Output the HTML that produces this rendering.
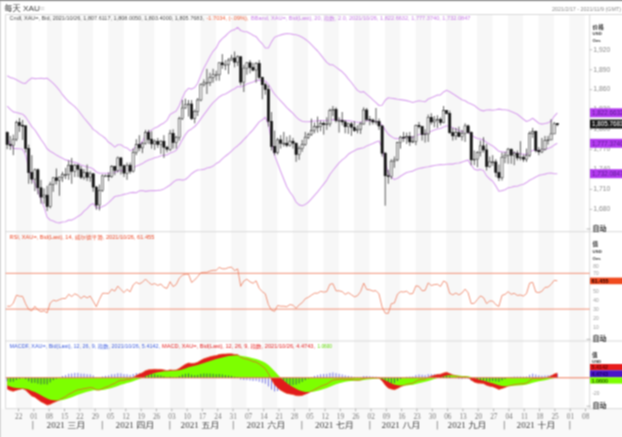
<!DOCTYPE html>
<html lang="zh"><head><meta charset="utf-8"><title>每天 XAU=</title>
<style>html,body{margin:0;padding:0;background:#fff;overflow:hidden}svg{display:block;}</style></head>
<body><svg width="622" height="437" viewBox="0 0 622 437">
<filter id="soft" filterUnits="userSpaceOnUse" x="-8" y="-8" width="638" height="453" color-interpolation-filters="sRGB"><feConvolveMatrix order="3" kernelMatrix="0.5 1.0 0.5 1.0 2.0 1.0 0.5 1.0 0.5" divisor="8.0" edgeMode="duplicate" preserveAlpha="true"/></filter><g filter="url(#soft)"><rect x="-8" y="-8" width="638" height="453" fill="#fff"/>
<rect x="-8" y="408.7" width="638" height="40" fill="#f9f9f9"/>
<g fill="#f7f7f7"><rect x="16.1" y="14.5" width="15.4" height="394.2"/><rect x="46.8" y="14.5" width="15.4" height="394.2"/><rect x="77.6" y="14.5" width="15.4" height="394.2"/><rect x="108.3" y="14.5" width="15.4" height="394.2"/><rect x="139.0" y="14.5" width="15.4" height="394.2"/><rect x="169.8" y="14.5" width="15.4" height="394.2"/><rect x="200.5" y="14.5" width="15.4" height="394.2"/><rect x="231.2" y="14.5" width="15.4" height="394.2"/><rect x="262.0" y="14.5" width="15.4" height="394.2"/><rect x="292.7" y="14.5" width="15.4" height="394.2"/><rect x="323.4" y="14.5" width="15.4" height="394.2"/><rect x="354.1" y="14.5" width="15.4" height="394.2"/><rect x="384.9" y="14.5" width="15.4" height="394.2"/><rect x="415.6" y="14.5" width="15.4" height="394.2"/><rect x="446.3" y="14.5" width="15.4" height="394.2"/><rect x="477.1" y="14.5" width="15.4" height="394.2"/><rect x="507.8" y="14.5" width="15.4" height="394.2"/><rect x="538.5" y="14.5" width="15.4" height="394.2"/><rect x="569.3" y="14.5" width="15.4" height="394.2"/></g>
<rect x="-8" y="-8" width="638" height="9.1" fill="#8a8a8a"/>
<rect x="-8" y="1.1" width="9" height="445" fill="#d4d4d4"/>
<g stroke="#d9d9d9" stroke-width="1" fill="none"><path d="M5.6,14.5 H630 M5.6,14.5 V408.7 M589.7,14.5 V408.7 M5.6,231.7 H630 M5.6,341.0 H630 M5.6,408.7 H630"/></g>
<clipPath id="cm"><rect x="5.6" y="14.5" width="584.1" height="217.2"/></clipPath>
<g clip-path="url(#cm)" stroke="#d9a3ee" stroke-width="1.1" fill="none" stroke-linejoin="round">
<path d="M7.2,75.8 L10.3,77.6 L13.3,78.3 L16.4,79.7 L19.5,81.5 L22.6,83.1 L25.6,83.4 L28.7,80.2 L31.8,78.0 L34.9,78.6 L37.9,78.5 L41.0,78.2 L44.1,78.6 L47.1,78.3 L50.2,80.6 L53.3,83.4 L56.4,86.6 L59.4,90.3 L62.5,94.7 L65.6,98.4 L68.7,101.7 L71.7,104.1 L74.8,106.6 L77.9,110.0 L81.0,114.0 L84.0,118.0 L87.1,121.7 L90.2,125.3 L93.2,129.4 L96.3,131.4 L99.4,134.1 L102.5,136.1 L105.5,138.5 L108.6,142.3 L111.7,144.3 L114.8,147.1 L117.8,144.8 L120.9,144.8 L124.0,146.9 L127.0,147.9 L130.1,150.7 L133.2,149.4 L136.3,145.7 L139.3,144.8 L142.4,141.5 L145.5,135.0 L148.6,131.7 L151.6,130.1 L154.7,127.9 L157.8,126.7 L160.9,124.5 L163.9,122.9 L167.0,120.3 L170.1,114.4 L173.1,112.7 L176.2,111.1 L179.3,105.5 L182.4,97.7 L185.4,91.6 L188.5,88.3 L191.6,89.1 L194.7,87.5 L197.7,83.3 L200.8,75.3 L203.9,68.0 L206.9,62.6 L210.0,56.5 L213.1,51.3 L216.2,47.9 L219.2,42.0 L222.3,38.7 L225.4,36.0 L228.5,32.9 L231.5,30.5 L234.6,29.6 L237.7,27.3 L240.7,30.5 L243.8,31.6 L246.9,31.8 L250.0,33.4 L253.0,35.3 L256.1,36.7 L259.2,40.6 L262.3,43.8 L265.3,48.0 L268.4,48.0 L271.5,41.9 L274.6,37.2 L277.6,36.1 L280.7,34.9 L283.8,34.1 L286.8,33.5 L289.9,33.7 L293.0,34.4 L296.1,34.7 L299.1,35.7 L302.2,37.3 L305.3,39.3 L308.4,41.6 L311.4,44.7 L314.5,47.8 L317.6,51.0 L320.6,54.6 L323.7,58.6 L326.8,62.4 L329.9,64.8 L332.9,64.9 L336.0,67.1 L339.1,69.5 L342.2,71.8 L345.2,74.9 L348.3,78.8 L351.4,82.5 L354.4,86.5 L357.5,90.4 L360.6,92.3 L363.7,91.6 L366.7,94.4 L369.8,96.9 L372.9,99.9 L376.0,102.6 L379.0,105.5 L382.1,105.3 L385.2,100.2 L388.3,97.8 L391.3,98.2 L394.4,98.6 L397.5,99.3 L400.5,99.6 L403.6,100.1 L406.7,100.6 L409.8,101.5 L412.8,102.5 L415.9,101.5 L419.0,100.7 L422.1,101.3 L425.1,101.8 L428.2,99.0 L431.3,97.7 L434.3,96.4 L437.4,95.1 L440.5,94.9 L443.6,91.9 L446.6,90.2 L449.7,91.8 L452.8,93.7 L455.9,95.7 L458.9,97.8 L462.0,99.8 L465.1,100.8 L468.1,102.8 L471.2,103.9 L474.3,105.4 L477.4,108.0 L480.4,110.1 L483.5,110.9 L486.6,110.0 L489.7,109.9 L492.7,110.3 L495.8,109.8 L498.9,109.1 L502.0,109.6 L505.0,109.7 L508.1,110.3 L511.2,111.5 L514.2,112.7 L517.3,114.3 L520.4,116.8 L523.5,119.2 L526.5,121.5 L529.6,120.3 L532.7,118.3 L535.8,120.8 L538.8,123.2 L541.9,124.1 L545.0,123.5 L548.0,122.9 L551.1,121.0 L554.2,116.3 L557.3,112.8"/>
<path d="M7.2,106.1 L10.3,109.4 L13.3,111.9 L16.4,112.5 L19.5,113.4 L22.6,114.2 L25.6,117.0 L28.7,121.8 L31.8,126.6 L34.9,130.0 L37.9,134.6 L41.0,139.5 L44.1,143.8 L47.1,148.8 L50.2,151.3 L53.3,153.0 L56.4,155.1 L59.4,156.8 L62.5,158.3 L65.6,159.9 L68.7,160.6 L71.7,161.8 L74.8,162.4 L77.9,163.3 L81.0,164.9 L84.0,165.9 L87.1,167.0 L90.2,167.5 L93.2,169.0 L96.3,172.0 L99.4,173.3 L102.5,173.2 L105.5,173.2 L108.6,173.4 L111.7,172.7 L114.8,172.5 L117.8,171.1 L120.9,170.5 L124.0,170.6 L127.0,169.9 L130.1,169.8 L133.2,168.2 L136.3,166.1 L139.3,164.9 L142.4,163.6 L145.5,161.5 L148.6,160.1 L151.6,159.1 L154.7,157.8 L157.8,157.0 L160.9,155.8 L163.9,155.3 L167.0,154.9 L170.1,153.1 L173.1,152.1 L176.2,150.2 L179.3,145.5 L182.4,139.6 L185.4,134.6 L188.5,130.7 L191.6,128.9 L194.7,126.5 L197.7,123.4 L200.8,118.9 L203.9,114.6 L206.9,110.6 L210.0,106.4 L213.1,102.7 L216.2,99.9 L219.2,96.9 L222.3,95.1 L225.4,93.9 L228.5,92.3 L231.5,90.3 L234.6,88.7 L237.7,86.5 L240.7,86.9 L243.8,85.8 L246.9,84.1 L250.0,83.0 L253.0,82.0 L256.1,80.4 L259.2,80.2 L262.3,80.5 L265.3,81.0 L268.4,84.3 L271.5,89.3 L274.6,94.2 L277.6,97.5 L280.7,100.9 L283.8,104.2 L286.8,107.6 L289.9,110.5 L293.0,113.3 L296.1,116.9 L299.1,119.6 L302.2,121.3 L305.3,121.8 L308.4,121.7 L311.4,121.4 L314.5,121.0 L317.6,120.9 L320.6,120.5 L323.7,120.5 L326.8,120.7 L329.9,120.0 L332.9,119.6 L336.0,120.0 L339.1,120.1 L342.2,120.1 L345.2,120.5 L348.3,120.6 L351.4,121.0 L354.4,121.7 L357.5,122.3 L360.6,122.3 L363.7,121.0 L366.7,120.8 L369.8,120.8 L372.9,121.1 L376.0,121.4 L379.0,122.1 L382.1,125.1 L385.2,129.9 L388.3,134.2 L391.3,136.5 L394.4,138.4 L397.5,138.6 L400.5,138.3 L403.6,138.0 L406.7,137.5 L409.8,137.4 L412.8,137.3 L415.9,135.7 L419.0,134.5 L422.1,134.3 L425.1,134.0 L428.2,132.3 L431.3,131.2 L434.3,130.0 L437.4,129.0 L440.5,128.5 L443.6,126.9 L446.6,125.7 L449.7,126.5 L452.8,127.7 L455.9,128.9 L458.9,130.5 L462.0,131.6 L465.1,131.7 L468.1,132.0 L471.2,134.8 L474.3,137.1 L477.4,138.5 L480.4,139.1 L483.5,140.0 L486.6,142.5 L489.7,144.3 L492.7,145.9 L495.8,148.5 L498.9,151.3 L502.0,151.9 L505.0,152.3 L508.1,152.1 L511.2,152.5 L514.2,152.7 L517.3,153.3 L520.4,153.7 L523.5,154.3 L526.5,154.4 L529.6,152.4 L532.7,150.3 L535.8,150.2 L538.8,150.2 L541.9,150.1 L545.0,149.2 L548.0,148.4 L551.1,147.2 L554.2,145.1 L557.3,143.3"/>
<path d="M7.2,139.0 L10.3,144.0 L13.3,148.4 L16.4,148.6 L19.5,148.8 L22.6,149.2 L25.6,154.9 L28.7,167.8 L31.8,179.1 L34.9,183.5 L37.9,190.6 L41.0,199.6 L44.1,207.2 L47.1,217.2 L50.2,220.0 L53.3,221.1 L56.4,222.5 L59.4,222.9 L62.5,222.0 L65.6,221.8 L68.7,220.0 L71.7,220.1 L74.8,218.5 L77.9,216.4 L81.0,214.6 L84.0,211.2 L87.1,208.6 L90.2,205.1 L93.2,203.6 L96.3,207.6 L99.4,208.0 L102.5,206.6 L105.5,205.2 L108.6,202.6 L111.7,199.7 L114.8,196.5 L117.8,195.9 L120.9,195.2 L124.0,194.4 L127.0,193.7 L130.1,192.8 L133.2,192.4 L136.3,192.8 L139.3,190.9 L142.4,190.5 L145.5,191.4 L148.6,190.9 L151.6,190.5 L154.7,190.6 L157.8,190.4 L160.9,190.1 L163.9,188.9 L167.0,187.0 L170.1,185.0 L173.1,182.3 L176.2,180.1 L179.3,179.5 L182.4,180.1 L185.4,179.5 L188.5,176.9 L191.6,173.7 L194.7,171.5 L197.7,170.0 L200.8,169.8 L203.9,169.4 L206.9,168.0 L210.0,167.4 L213.1,166.1 L216.2,163.6 L219.2,161.9 L222.3,158.8 L225.4,156.2 L228.5,153.8 L231.5,151.1 L234.6,148.1 L237.7,145.7 L240.7,143.0 L243.8,139.7 L246.9,136.5 L250.0,133.0 L253.0,129.8 L256.1,125.8 L259.2,121.9 L262.3,119.8 L265.3,117.2 L268.4,124.3 L271.5,140.8 L274.6,155.6 L277.6,163.3 L280.7,171.5 L283.8,179.2 L286.8,186.8 L289.9,192.0 L293.0,196.3 L296.1,202.1 L299.1,204.9 L302.2,205.8 L305.3,204.4 L308.4,202.2 L311.4,198.9 L314.5,195.3 L317.6,191.9 L320.6,188.0 L323.7,184.1 L326.8,180.1 L329.9,174.5 L332.9,170.5 L336.0,166.7 L339.1,162.9 L342.2,159.9 L345.2,157.6 L348.3,154.3 L351.4,152.3 L354.4,150.8 L357.5,149.1 L360.6,148.4 L363.7,147.8 L366.7,145.9 L369.8,144.8 L372.9,143.5 L376.0,142.1 L379.0,141.0 L382.1,147.5 L385.2,162.2 L388.3,173.1 L391.3,176.9 L394.4,179.6 L397.5,178.3 L400.5,176.2 L403.6,174.3 L406.7,172.5 L409.8,171.8 L412.8,171.1 L415.9,169.6 L419.0,168.5 L422.1,167.9 L425.1,167.3 L428.2,166.8 L431.3,166.1 L434.3,165.5 L437.4,165.0 L440.5,164.6 L443.6,164.7 L446.6,164.2 L449.7,164.1 L452.8,164.1 L455.9,163.3 L458.9,163.0 L462.0,162.1 L465.1,160.9 L468.1,160.1 L471.2,165.2 L474.3,169.2 L477.4,170.1 L480.4,169.4 L483.5,170.4 L486.6,175.9 L489.7,179.0 L492.7,181.3 L495.8,185.9 L498.9,191.2 L502.0,190.6 L505.0,189.8 L508.1,187.9 L511.2,187.2 L514.2,186.4 L517.3,186.2 L520.4,185.0 L523.5,184.2 L526.5,182.6 L529.6,180.3 L532.7,178.7 L535.8,176.9 L538.8,175.4 L541.9,174.7 L545.0,174.1 L548.0,173.3 L551.1,173.0 L554.2,173.7 L557.3,173.7"/>
</g>
<path d="M7.2,131.3V149.2M10.3,135.9V149.9M13.3,134.6V155.2M16.4,120.6V141.2M19.5,118.0V131.9M22.6,120.0V139.9M25.6,125.3V152.5M28.7,144.6V183.8M31.8,155.2V183.8M34.9,168.5V191.1M37.9,168.5V194.4M41.0,179.8V203.7M44.1,188.4V203.7M47.1,185.8V211.1M50.2,181.8V208.4M53.3,177.1V191.8M56.4,168.5V184.5M59.4,176.5V195.8M62.5,171.8V181.8M65.6,167.8V179.1M68.7,160.5V179.8M71.7,157.9V183.8M74.8,163.8V177.1M77.9,163.8V177.1M81.0,165.8V179.1M84.0,169.2V179.8M87.1,164.5V181.1M90.2,171.2V181.8M93.2,173.2V191.8M96.3,185.8V209.7M99.4,184.5V210.4M102.5,174.5V191.8M105.5,174.5V177.1M108.6,172.5V181.1M111.7,165.2V177.8M114.8,165.8V175.2M117.8,156.5V172.5M120.9,157.2V174.5M124.0,164.5V177.1M127.0,162.5V179.8M130.1,162.5V173.8M133.2,148.6V172.5M136.3,139.2V155.2M139.3,135.2V151.2M142.4,141.9V153.2M145.5,129.9V144.6M148.6,129.9V143.9M151.6,131.3V148.6M154.7,139.2V149.9M157.8,137.9V147.9M160.9,139.9V153.9M163.9,135.2V157.9M167.0,145.9V152.5M170.1,129.9V151.2M173.1,129.3V148.6M176.2,135.9V148.6M179.3,116.6V140.6M182.4,100.0V120.0M185.4,98.7V108.7M188.5,100.0V116.6M191.6,100.0V120.0M194.7,109.3V123.3M197.7,98.0V116.0M200.8,83.4V101.3M203.9,79.4V86.7M206.9,68.8V94.0M210.0,72.7V86.0M213.1,68.8V82.7M216.2,70.7V80.7M219.2,62.1V80.7M222.3,54.1V68.8M225.4,60.1V70.1M228.5,58.1V74.1M231.5,54.8V60.8M234.6,51.5V67.4M237.7,55.4V66.1M240.7,56.1V85.4M243.8,64.8V92.0M246.9,62.1V74.7M250.0,60.1V73.4M253.0,62.8V71.4M256.1,62.1V82.7M259.2,60.1V79.4M262.3,76.7V99.3M265.3,82.7V94.7M268.4,85.4V126.6M271.5,112.0V150.5M274.6,130.6V155.2M277.6,137.9V154.5M280.7,135.2V148.6M283.8,131.9V146.6M286.8,136.6V147.2M289.9,135.2V146.6M293.0,137.9V148.6M296.1,142.6V161.9M299.1,145.9V159.9M302.2,139.9V151.9M305.3,131.9V145.9M308.4,132.6V139.2M311.4,118.6V135.9M314.5,122.6V133.3M317.6,116.6V132.6M320.6,120.6V131.3M323.7,121.3V134.6M326.8,117.3V129.9M329.9,108.7V126.6M332.9,106.0V116.0M336.0,107.3V122.6M339.1,117.3V132.6M342.2,112.0V125.3M345.2,120.0V133.3M348.3,122.6V133.9M351.4,122.0V135.9M354.4,121.3V131.9M357.5,125.3V133.3M360.6,122.0V133.9M363.7,107.3V124.6M366.7,108.0V121.3M369.8,116.0V125.3M372.9,118.6V124.6M376.0,108.0V124.6M379.0,118.6V129.9M382.1,125.3V156.5M385.2,151.9V205.7M388.3,169.8V183.8M391.3,159.2V179.1M394.4,156.5V167.8M397.5,141.9V161.2M400.5,135.9V148.6M403.6,131.9V141.9M406.7,132.6V143.9M409.8,131.9V145.9M412.8,135.9V143.2M415.9,124.6V145.2M419.0,122.0V128.6M422.1,125.9V140.6M425.1,129.3V142.6M428.2,114.6V141.9M431.3,113.3V124.6M434.3,116.0V127.3M437.4,115.3V127.9M440.5,117.3V125.3M443.6,106.0V123.3M446.6,110.0V114.6M449.7,110.6V133.9M452.8,127.9V140.6M455.9,127.9V139.9M458.9,126.6V137.2M462.0,129.9V140.6M465.1,123.3V141.9M468.1,124.6V133.9M471.2,131.3V165.2M474.3,150.5V165.2M477.4,151.2V167.2M480.4,140.6V156.5M483.5,137.2V152.5M486.6,143.9V170.5M489.7,156.5V167.8M492.7,155.2V165.8M495.8,159.2V177.1M498.9,164.5V181.1M502.0,152.5V180.5M505.0,151.9V163.2M508.1,147.9V163.8M511.2,148.6V163.8M514.2,151.2V165.2M517.3,150.5V160.5M520.4,141.2V160.5M523.5,154.5V161.9M526.5,148.6V161.9M529.6,131.3V157.2M532.7,127.9V137.9M535.8,130.6V152.5M538.8,147.2V155.2M541.9,137.9V153.2M545.0,135.9V150.5M548.0,135.9V144.6M551.1,119.3V139.9M554.2,122.0V133.9M557.3,123.3V126.3" stroke="#333" stroke-width="0.8" fill="none"/>
<g fill="#fff" stroke="#333" stroke-width="0.6"><rect x="12.2" y="139.2" width="2.2" height="6.0"/><rect x="15.3" y="122.6" width="2.2" height="16.6"/><rect x="33.8" y="169.8" width="2.2" height="9.3"/><rect x="43.0" y="195.1" width="2.2" height="2.0"/><rect x="49.1" y="184.5" width="2.2" height="21.9"/><rect x="52.2" y="177.8" width="2.2" height="6.6"/><rect x="58.3" y="177.1" width="2.2" height="3.3"/><rect x="61.4" y="174.5" width="2.2" height="2.7"/><rect x="64.5" y="174.5" width="2.2" height="0.8"/><rect x="67.6" y="165.2" width="2.2" height="9.3"/><rect x="73.7" y="165.2" width="2.2" height="6.0"/><rect x="82.9" y="172.5" width="2.2" height="4.7"/><rect x="89.1" y="173.8" width="2.2" height="3.3"/><rect x="98.3" y="190.4" width="2.2" height="14.6"/><rect x="101.4" y="175.8" width="2.2" height="14.6"/><rect x="104.4" y="175.8" width="2.2" height="0.8"/><rect x="110.6" y="166.5" width="2.2" height="10.0"/><rect x="116.7" y="157.9" width="2.2" height="12.6"/><rect x="125.9" y="165.2" width="2.2" height="8.0"/><rect x="132.1" y="152.5" width="2.2" height="18.6"/><rect x="135.2" y="144.6" width="2.2" height="8.0"/><rect x="141.3" y="143.2" width="2.2" height="4.7"/><rect x="144.4" y="132.6" width="2.2" height="10.6"/><rect x="153.6" y="141.2" width="2.2" height="2.7"/><rect x="159.8" y="141.2" width="2.2" height="3.3"/><rect x="169.0" y="133.3" width="2.2" height="16.0"/><rect x="175.1" y="137.2" width="2.2" height="5.3"/><rect x="178.2" y="118.6" width="2.2" height="18.6"/><rect x="181.3" y="108.0" width="2.2" height="10.6"/><rect x="184.3" y="104.7" width="2.2" height="3.3"/><rect x="187.4" y="104.0" width="2.2" height="0.8"/><rect x="193.6" y="111.3" width="2.2" height="7.3"/><rect x="196.6" y="100.0" width="2.2" height="11.3"/><rect x="199.7" y="84.7" width="2.2" height="15.3"/><rect x="202.8" y="82.7" width="2.2" height="2.0"/><rect x="205.8" y="82.7" width="2.2" height="0.8"/><rect x="208.9" y="77.4" width="2.2" height="5.3"/><rect x="212.0" y="74.7" width="2.2" height="2.7"/><rect x="215.1" y="74.7" width="2.2" height="0.8"/><rect x="218.1" y="62.8" width="2.2" height="12.0"/><rect x="224.3" y="64.8" width="2.2" height="0.8"/><rect x="227.4" y="60.1" width="2.2" height="4.7"/><rect x="230.4" y="58.1" width="2.2" height="2.0"/><rect x="236.6" y="56.8" width="2.2" height="5.3"/><rect x="242.7" y="68.1" width="2.2" height="14.0"/><rect x="245.8" y="62.8" width="2.2" height="5.3"/><rect x="255.0" y="63.4" width="2.2" height="6.6"/><rect x="276.5" y="139.9" width="2.2" height="12.6"/><rect x="282.7" y="143.2" width="2.2" height="0.8"/><rect x="288.8" y="141.2" width="2.2" height="4.0"/><rect x="298.0" y="148.6" width="2.2" height="6.0"/><rect x="301.1" y="144.6" width="2.2" height="4.0"/><rect x="304.2" y="137.2" width="2.2" height="7.3"/><rect x="307.3" y="134.6" width="2.2" height="2.7"/><rect x="310.3" y="130.6" width="2.2" height="4.0"/><rect x="313.4" y="126.6" width="2.2" height="4.0"/><rect x="316.5" y="126.6" width="2.2" height="0.8"/><rect x="319.5" y="123.3" width="2.2" height="3.3"/><rect x="325.7" y="123.9" width="2.2" height="0.8"/><rect x="328.8" y="110.6" width="2.2" height="13.3"/><rect x="331.8" y="109.3" width="2.2" height="1.3"/><rect x="338.0" y="120.6" width="2.2" height="0.8"/><rect x="347.2" y="123.9" width="2.2" height="2.7"/><rect x="356.4" y="129.3" width="2.2" height="1.3"/><rect x="359.5" y="123.9" width="2.2" height="5.3"/><rect x="362.6" y="110.0" width="2.2" height="14.0"/><rect x="374.9" y="121.3" width="2.2" height="0.8"/><rect x="390.2" y="161.2" width="2.2" height="15.3"/><rect x="393.3" y="159.9" width="2.2" height="1.3"/><rect x="396.4" y="142.6" width="2.2" height="17.3"/><rect x="399.4" y="137.2" width="2.2" height="5.3"/><rect x="405.6" y="136.6" width="2.2" height="1.3"/><rect x="411.7" y="141.2" width="2.2" height="0.8"/><rect x="414.8" y="125.3" width="2.2" height="16.0"/><rect x="424.0" y="133.9" width="2.2" height="0.8"/><rect x="427.1" y="117.3" width="2.2" height="16.6"/><rect x="433.2" y="120.0" width="2.2" height="2.0"/><rect x="436.3" y="119.3" width="2.2" height="0.8"/><rect x="442.5" y="110.6" width="2.2" height="12.0"/><rect x="454.8" y="132.6" width="2.2" height="3.3"/><rect x="460.9" y="133.3" width="2.2" height="3.3"/><rect x="464.0" y="125.9" width="2.2" height="7.3"/><rect x="473.2" y="159.2" width="2.2" height="0.8"/><rect x="476.3" y="152.5" width="2.2" height="6.6"/><rect x="479.3" y="145.9" width="2.2" height="6.7"/><rect x="488.6" y="161.9" width="2.2" height="4.7"/><rect x="491.6" y="161.9" width="2.2" height="0.8"/><rect x="500.9" y="157.2" width="2.2" height="20.6"/><rect x="503.9" y="155.2" width="2.2" height="2.0"/><rect x="507.0" y="149.2" width="2.2" height="6.0"/><rect x="513.1" y="153.2" width="2.2" height="2.0"/><rect x="519.3" y="157.2" width="2.2" height="0.8"/><rect x="525.4" y="155.2" width="2.2" height="4.0"/><rect x="528.5" y="133.3" width="2.2" height="21.9"/><rect x="531.6" y="131.3" width="2.2" height="2.0"/><rect x="540.8" y="149.2" width="2.2" height="2.7"/><rect x="543.9" y="140.6" width="2.2" height="8.6"/><rect x="546.9" y="139.9" width="2.2" height="0.8"/><rect x="550.0" y="133.9" width="2.2" height="6.0"/><rect x="553.1" y="123.9" width="2.2" height="10.0"/></g>
<g fill="#111" stroke="#111" stroke-width="0.6"><rect x="6.1" y="132.6" width="2.2" height="12.0"/><rect x="9.2" y="144.6" width="2.2" height="0.8"/><rect x="18.4" y="122.6" width="2.2" height="2.7"/><rect x="21.5" y="125.3" width="2.2" height="0.8"/><rect x="24.5" y="125.9" width="2.2" height="22.6"/><rect x="27.6" y="148.6" width="2.2" height="23.9"/><rect x="30.7" y="172.5" width="2.2" height="6.6"/><rect x="36.8" y="169.8" width="2.2" height="18.0"/><rect x="39.9" y="187.8" width="2.2" height="9.3"/><rect x="46.0" y="195.1" width="2.2" height="11.3"/><rect x="55.3" y="177.8" width="2.2" height="2.7"/><rect x="70.6" y="165.2" width="2.2" height="6.0"/><rect x="76.8" y="165.2" width="2.2" height="4.0"/><rect x="79.9" y="169.2" width="2.2" height="8.0"/><rect x="86.0" y="172.5" width="2.2" height="4.7"/><rect x="92.1" y="173.8" width="2.2" height="13.3"/><rect x="95.2" y="187.1" width="2.2" height="18.0"/><rect x="107.5" y="175.8" width="2.2" height="0.8"/><rect x="113.7" y="166.5" width="2.2" height="4.0"/><rect x="119.8" y="157.9" width="2.2" height="8.0"/><rect x="122.9" y="165.8" width="2.2" height="7.3"/><rect x="129.0" y="165.2" width="2.2" height="6.0"/><rect x="138.2" y="144.6" width="2.2" height="3.3"/><rect x="147.5" y="132.6" width="2.2" height="6.7"/><rect x="150.5" y="139.2" width="2.2" height="4.7"/><rect x="156.7" y="141.2" width="2.2" height="3.3"/><rect x="162.8" y="141.2" width="2.2" height="6.0"/><rect x="165.9" y="147.2" width="2.2" height="2.0"/><rect x="172.0" y="133.3" width="2.2" height="9.3"/><rect x="190.5" y="104.0" width="2.2" height="14.6"/><rect x="221.2" y="62.8" width="2.2" height="2.0"/><rect x="233.5" y="58.1" width="2.2" height="4.0"/><rect x="239.6" y="56.8" width="2.2" height="25.3"/><rect x="248.9" y="62.8" width="2.2" height="4.7"/><rect x="251.9" y="67.4" width="2.2" height="2.7"/><rect x="258.1" y="63.4" width="2.2" height="14.0"/><rect x="261.2" y="77.4" width="2.2" height="7.3"/><rect x="264.2" y="84.7" width="2.2" height="4.7"/><rect x="267.3" y="89.4" width="2.2" height="31.9"/><rect x="270.4" y="121.3" width="2.2" height="25.3"/><rect x="273.5" y="146.6" width="2.2" height="6.0"/><rect x="279.6" y="139.9" width="2.2" height="3.3"/><rect x="285.7" y="143.2" width="2.2" height="2.0"/><rect x="291.9" y="141.2" width="2.2" height="2.0"/><rect x="295.0" y="143.2" width="2.2" height="11.3"/><rect x="322.6" y="123.3" width="2.2" height="1.3"/><rect x="334.9" y="109.3" width="2.2" height="11.3"/><rect x="341.1" y="120.6" width="2.2" height="1.3"/><rect x="344.1" y="122.0" width="2.2" height="4.7"/><rect x="350.3" y="123.9" width="2.2" height="3.3"/><rect x="353.3" y="127.3" width="2.2" height="3.3"/><rect x="365.6" y="110.0" width="2.2" height="9.3"/><rect x="368.7" y="119.3" width="2.2" height="0.8"/><rect x="371.8" y="120.0" width="2.2" height="2.0"/><rect x="377.9" y="121.3" width="2.2" height="4.7"/><rect x="381.0" y="125.9" width="2.2" height="27.3"/><rect x="384.1" y="153.2" width="2.2" height="22.6"/><rect x="387.2" y="175.8" width="2.2" height="0.8"/><rect x="402.5" y="137.2" width="2.2" height="0.8"/><rect x="408.7" y="136.6" width="2.2" height="5.3"/><rect x="417.9" y="125.3" width="2.2" height="1.3"/><rect x="421.0" y="126.6" width="2.2" height="8.0"/><rect x="430.2" y="117.3" width="2.2" height="4.7"/><rect x="439.4" y="119.3" width="2.2" height="3.3"/><rect x="445.5" y="110.6" width="2.2" height="2.7"/><rect x="448.6" y="113.3" width="2.2" height="19.3"/><rect x="451.7" y="132.6" width="2.2" height="3.3"/><rect x="457.8" y="132.6" width="2.2" height="4.0"/><rect x="467.0" y="125.9" width="2.2" height="6.7"/><rect x="470.1" y="132.6" width="2.2" height="27.3"/><rect x="482.4" y="145.9" width="2.2" height="4.0"/><rect x="485.5" y="149.9" width="2.2" height="16.6"/><rect x="494.7" y="161.9" width="2.2" height="10.6"/><rect x="497.8" y="172.5" width="2.2" height="5.3"/><rect x="510.1" y="149.2" width="2.2" height="6.0"/><rect x="516.2" y="153.2" width="2.2" height="4.7"/><rect x="522.4" y="157.2" width="2.2" height="2.0"/><rect x="534.7" y="131.3" width="2.2" height="19.3"/><rect x="537.7" y="150.5" width="2.2" height="1.3"/><rect x="556.2" y="123.5" width="2.2" height="1.2"/></g>
<g stroke="#ee7b5c" stroke-width="0.85" fill="none"><path d="M5.6,273.3H589.7M5.6,309.1H589.7"/><path stroke-width="0.8" stroke-linejoin="round" d="M7.2,306.2 L10.3,306.3 L13.3,303.1 L16.4,295.2 L19.5,296.2 L22.6,296.4 L25.6,303.8 L28.7,309.4 L31.8,310.8 L34.9,306.3 L37.9,310.0 L41.0,311.7 L44.1,310.8 L47.1,312.9 L50.2,303.0 L53.3,300.3 L56.4,301.0 L59.4,299.6 L62.5,298.5 L65.6,298.5 L68.7,294.3 L71.7,296.5 L74.8,293.8 L77.9,295.3 L81.0,298.4 L84.0,296.0 L87.1,297.9 L90.2,296.1 L93.2,301.2 L96.3,306.7 L99.4,299.4 L102.5,293.3 L105.5,293.3 L108.6,293.5 L111.7,289.3 L114.8,291.1 L117.8,286.1 L120.9,289.6 L124.0,292.6 L127.0,289.3 L130.1,291.9 L133.2,284.9 L136.3,282.3 L139.3,283.9 L142.4,282.3 L145.5,279.0 L148.6,282.3 L151.6,284.6 L154.7,283.6 L157.8,285.4 L160.9,284.0 L163.9,287.3 L167.0,288.4 L170.1,281.7 L173.1,286.6 L176.2,284.5 L179.3,278.1 L182.4,275.2 L185.4,274.3 L188.5,274.1 L191.6,282.4 L194.7,280.0 L197.7,276.6 L200.8,272.8 L203.9,272.3 L206.9,272.3 L210.0,271.0 L213.1,270.3 L216.2,270.3 L219.2,267.4 L222.3,268.8 L225.4,268.8 L228.5,267.6 L231.5,267.1 L234.6,270.6 L237.7,268.9 L240.7,286.3 L243.8,281.0 L246.9,279.2 L250.0,281.8 L253.0,283.3 L256.1,280.8 L259.2,288.3 L262.3,291.7 L265.3,293.8 L268.4,304.6 L271.5,310.2 L274.6,311.3 L277.6,305.5 L280.7,306.2 L283.8,306.2 L286.8,306.7 L289.9,304.6 L293.0,305.2 L296.1,308.3 L299.1,304.9 L302.2,302.7 L305.3,298.7 L308.4,297.3 L311.4,295.2 L314.5,293.2 L317.6,293.2 L320.6,291.3 L323.7,292.1 L326.8,291.6 L329.9,284.3 L332.9,283.7 L336.0,290.8 L339.1,290.8 L342.2,291.6 L345.2,294.4 L348.3,292.6 L351.4,294.7 L354.4,296.8 L357.5,295.7 L360.6,291.6 L363.7,283.1 L366.7,289.4 L369.8,289.8 L372.9,291.1 L376.0,290.7 L379.0,293.9 L382.1,307.0 L385.2,313.2 L388.3,313.4 L391.3,303.7 L394.4,303.0 L397.5,294.1 L400.5,291.7 L403.6,292.0 L406.7,291.3 L409.8,293.9 L412.8,293.5 L415.9,285.8 L419.0,286.5 L422.1,290.8 L425.1,290.4 L428.2,282.9 L431.3,285.5 L434.3,284.6 L437.4,284.3 L440.5,286.4 L443.6,281.0 L446.6,282.7 L449.7,293.3 L452.8,294.8 L455.9,293.0 L458.9,294.9 L462.0,293.0 L465.1,289.1 L468.1,292.7 L471.2,303.6 L474.3,303.3 L477.4,299.5 L480.4,295.9 L483.5,297.6 L486.6,303.6 L489.7,301.0 L492.7,301.0 L495.8,304.7 L498.9,306.4 L502.0,295.4 L505.0,294.4 L508.1,291.7 L511.2,294.3 L514.2,293.3 L517.3,295.4 L520.4,295.0 L523.5,296.0 L526.5,293.6 L529.6,283.1 L532.7,282.3 L535.8,292.0 L538.8,292.6 L541.9,291.3 L545.0,287.4 L548.0,287.1 L551.1,284.4 L554.2,280.3 L557.3,280.8"/></g>
<clipPath id="cg"><path d="M7.2,377.8 L7.2,385.5 L10.3,386.5 L13.3,387.5 L16.4,388.0 L19.5,388.3 L22.6,388.4 L25.6,388.7 L28.7,389.6 L31.8,390.9 L34.9,392.1 L37.9,393.6 L41.0,395.3 L44.1,396.9 L47.1,398.5 L50.2,399.7 L53.3,400.3 L56.4,400.5 L59.4,400.4 L62.5,399.9 L65.6,399.3 L68.7,398.3 L71.7,397.2 L74.8,396.0 L77.9,394.8 L81.0,393.7 L84.0,392.7 L87.1,391.8 L90.2,390.9 L93.2,390.3 L96.3,390.3 L99.4,390.2 L102.5,389.9 L105.5,389.4 L108.6,388.8 L111.7,387.9 L114.8,387.0 L117.8,385.9 L120.9,384.8 L124.0,383.9 L127.0,383.0 L130.1,382.3 L133.2,381.3 L136.3,380.1 L139.3,378.9 L142.4,377.7 L145.5,376.3 L148.6,375.0 L151.6,373.9 L154.7,373.0 L157.8,372.3 L160.9,371.7 L163.9,371.3 L167.0,371.2 L170.1,370.9 L173.1,370.8 L176.2,370.6 L179.3,370.2 L182.4,369.4 L185.4,368.4 L188.5,367.3 L191.6,366.5 L194.7,365.8 L197.7,365.1 L200.8,364.1 L203.9,363.1 L206.9,362.0 L210.0,361.0 L213.1,360.0 L216.2,359.1 L219.2,358.2 L222.3,357.4 L225.4,356.7 L228.5,356.1 L231.5,355.7 L234.6,355.4 L237.7,355.3 L240.7,355.7 L243.8,356.2 L246.9,356.8 L250.0,357.5 L253.0,358.3 L256.1,359.1 L259.2,360.0 L262.3,361.3 L265.3,362.8 L268.4,364.9 L271.5,367.9 L274.6,371.3 L277.6,374.6 L280.7,377.7 L283.8,380.6 L286.8,383.1 L289.9,385.3 L293.0,387.1 L296.1,388.8 L299.1,390.2 L302.2,391.3 L305.3,391.9 L308.4,392.1 L311.4,391.9 L314.5,391.4 L317.6,390.7 L320.6,389.9 L323.7,388.9 L326.8,388.0 L329.9,386.8 L332.9,385.4 L336.0,384.3 L339.1,383.3 L342.2,382.4 L345.2,381.8 L348.3,381.3 L351.4,381.0 L354.4,380.8 L357.5,380.7 L360.6,380.5 L363.7,380.1 L366.7,379.6 L369.8,379.3 L372.9,379.0 L376.0,378.7 L379.0,378.6 L382.1,379.0 L385.2,380.2 L388.3,381.8 L391.3,383.2 L394.4,384.5 L397.5,385.3 L400.5,385.6 L403.6,385.6 L406.7,385.4 L409.8,385.0 L412.8,384.7 L415.9,384.0 L419.0,383.2 L422.1,382.5 L425.1,381.8 L428.2,380.9 L431.3,379.9 L434.3,379.0 L437.4,378.1 L440.5,377.3 L443.6,376.5 L446.6,375.6 L449.7,375.2 L452.8,375.2 L455.9,375.3 L458.9,375.5 L462.0,375.9 L465.1,376.1 L468.1,376.3 L471.2,377.1 L474.3,378.1 L477.4,379.1 L480.4,379.9 L483.5,380.6 L486.6,381.6 L489.7,382.5 L492.7,383.3 L495.8,384.3 L498.9,385.3 L502.0,385.9 L505.0,386.3 L508.1,386.2 L511.2,386.0 L514.2,385.8 L517.3,385.5 L520.4,385.2 L523.5,384.9 L526.5,384.5 L529.6,383.8 L532.7,382.7 L535.8,381.9 L538.8,381.3 L541.9,380.8 L545.0,380.2 L548.0,379.5 L551.1,378.8 L554.2,377.9 L557.3,376.9 L557.3,377.8Z"/></clipPath>
<path d="M7.2,377.8V381.2M10.3,377.8V381.9M13.3,377.8V381.6M16.4,377.8V380.0M19.5,377.8V378.9M22.6,377.8V378.1M25.6,377.8V379.2M28.7,377.8V381.3M31.8,377.8V382.9M34.9,377.8V382.8M37.9,377.8V383.7M41.0,377.8V384.4M44.1,377.8V384.2M47.1,377.8V384.4M50.2,377.8V382.4M53.3,377.8V380.2M56.4,377.8V378.7M59.4,377.8V377.3M62.5,377.8V376.0M65.6,377.8V375.1M68.7,377.8V373.8M71.7,377.8V373.5M74.8,377.8V372.9M77.9,377.8V372.9M81.0,377.8V373.6M84.0,377.8V373.7M87.1,377.8V374.2M90.2,377.8V374.4M93.2,377.8V375.5M96.3,377.8V377.5M99.4,377.8V377.6M102.5,377.8V376.5M105.5,377.8V375.8M108.6,377.8V375.4M111.7,377.8V374.4M114.8,377.8V374.2M117.8,377.8V373.3M120.9,377.8V373.4M124.0,377.8V374.2M127.0,377.8V374.3M130.1,377.8V374.9M133.2,377.8V374.0M136.3,377.8V373.1M139.3,377.8V373.0M142.4,377.8V372.8M145.5,377.8V372.2M148.6,377.8V372.6M151.6,377.8V373.5M154.7,377.8V374.1M157.8,377.8V375.0M160.9,377.8V375.5M163.9,377.8V376.4M167.0,377.8V377.3M170.1,377.8V376.7M173.1,377.8V377.2M176.2,377.8V377.2M179.3,377.8V376.0M182.4,377.8V374.6M185.4,377.8V373.8M188.5,377.8V373.5M191.6,377.8V374.7M194.7,377.8V375.2M197.7,377.8V374.9M200.8,377.8V373.9M203.9,377.8V373.5M206.9,377.8V373.6M210.0,377.8V373.6M213.1,377.8V373.8M216.2,377.8V374.3M219.2,377.8V374.1M222.3,377.8V374.5M225.4,377.8V375.1M228.5,377.8V375.5M231.5,377.8V375.9M234.6,377.8V376.8M237.7,377.8V377.2M240.7,377.8V379.5M243.8,377.8V380.0M246.9,377.8V380.1M250.0,377.8V380.5M253.0,377.8V381.0M256.1,377.8V380.9M259.2,377.8V381.8M262.3,377.8V382.8M265.3,377.8V383.7M268.4,377.8V386.4M271.5,377.8V389.5M274.6,377.8V391.4M277.6,377.8V391.0M280.7,377.8V390.3M283.8,377.8V389.3M286.8,377.8V388.1M289.9,377.8V386.5M293.0,377.8V385.1M296.1,377.8V384.6M299.1,377.8V383.4M302.2,377.8V381.9M305.3,377.8V380.2M308.4,377.8V378.6M311.4,377.8V377.2M314.5,377.8V375.9M317.6,377.8V375.1M320.6,377.8V374.3M323.7,377.8V374.0M326.8,377.8V373.9M329.9,377.8V373.0M332.9,377.8V372.5M336.0,377.8V373.2M339.1,377.8V373.8M342.2,377.8V374.5M345.2,377.8V375.3M348.3,377.8V375.8M351.4,377.8V376.4M354.4,377.8V377.0M357.5,377.8V377.3M360.6,377.8V377.2M363.7,377.8V376.1M366.7,377.8V376.1M369.8,377.8V376.3M372.9,377.8V376.6M376.0,377.8V376.8M379.0,377.8V377.3M382.1,377.8V379.6M385.2,377.8V382.5M388.3,377.8V384.1M391.3,377.8V383.7M394.4,377.8V383.0M397.5,377.8V380.9M400.5,377.8V379.0M403.6,377.8V377.8M406.7,377.8V376.8M409.8,377.8V376.6M412.8,377.8V376.4M415.9,377.8V375.1M419.0,377.8V374.5M422.1,377.8V374.8M425.1,377.8V375.1M428.2,377.8V374.2M431.3,377.8V374.1M434.3,377.8V374.1M437.4,377.8V374.2M440.5,377.8V374.7M443.6,377.8V374.3M446.6,377.8V374.5M449.7,377.8V376.1M452.8,377.8V377.5M455.9,377.8V378.2M458.9,377.8V378.9M462.0,377.8V379.1M465.1,377.8V378.6M468.1,377.8V378.8M471.2,377.8V380.8M474.3,377.8V381.8M477.4,377.8V381.8M480.4,377.8V381.1M483.5,377.8V380.8M486.6,377.8V381.5M489.7,377.8V381.5M492.7,377.8V381.2M495.8,377.8V381.5M498.9,377.8V381.9M502.0,377.8V380.4M505.0,377.8V379.0M508.1,377.8V377.6M511.2,377.8V377.1M514.2,377.8V376.6M517.3,377.8V376.6M520.4,377.8V376.6M523.5,377.8V376.7M526.5,377.8V376.5M529.6,377.8V374.8M532.7,377.8V373.7M535.8,377.8V374.5M538.8,377.8V375.3M541.9,377.8V375.7M545.0,377.8V375.4M548.0,377.8V375.3M551.1,377.8V374.9M554.2,377.8V374.1M557.3,377.8V373.8" stroke="#4a4ae0" stroke-width="0.75" fill="none"/>
<path fill="#e11b1b" d="M7.2,377.8 L7.2,388.9 L10.3,390.6 L13.3,391.3 L16.4,390.2 L19.5,389.4 L22.6,388.7 L25.6,390.1 L28.7,393.2 L31.8,396.0 L34.9,397.2 L37.9,399.5 L41.0,401.8 L44.1,403.3 L47.1,405.1 L50.2,404.3 L53.3,402.7 L56.4,401.4 L59.4,399.9 L62.5,398.2 L65.6,396.6 L68.7,394.3 L71.7,392.9 L74.8,391.1 L77.9,389.8 L81.0,389.4 L84.0,388.6 L87.1,388.2 L90.2,387.5 L93.2,388.0 L96.3,389.9 L99.4,390.0 L102.5,388.6 L105.5,387.3 L108.6,386.3 L111.7,384.5 L114.8,383.4 L117.8,381.3 L120.9,380.4 L124.0,380.3 L127.0,379.4 L130.1,379.3 L133.2,377.5 L136.3,375.4 L139.3,374.1 L142.4,372.7 L145.5,370.7 L148.6,369.8 L151.6,369.6 L154.7,369.3 L157.8,369.4 L160.9,369.4 L163.9,369.9 L167.0,370.7 L170.1,369.9 L173.1,370.2 L176.2,370.0 L179.3,368.4 L182.4,366.2 L185.4,364.3 L188.5,363.0 L191.6,363.4 L194.7,363.2 L197.7,362.2 L200.8,360.3 L203.9,358.7 L206.9,357.8 L210.0,356.8 L213.1,356.0 L216.2,355.6 L219.2,354.5 L222.3,354.1 L225.4,354.0 L228.5,353.8 L231.5,353.8 L234.6,354.4 L237.7,354.6 L240.7,357.3 L243.8,358.5 L246.9,359.1 L250.0,360.2 L253.0,361.5 L256.1,362.1 L259.2,364.0 L262.3,366.3 L265.3,368.7 L268.4,373.5 L271.5,379.6 L274.6,384.8 L277.6,387.8 L280.7,390.2 L283.8,392.0 L286.8,393.4 L289.9,394.0 L293.0,394.5 L296.1,395.6 L299.1,395.8 L302.2,395.4 L305.3,394.2 L308.4,392.9 L311.4,391.3 L314.5,389.5 L317.6,388.0 L320.6,386.4 L323.7,385.2 L326.8,384.1 L329.9,382.0 L332.9,380.1 L336.0,379.7 L339.1,379.3 L342.2,379.1 L345.2,379.4 L348.3,379.3 L351.4,379.5 L354.4,380.0 L357.5,380.2 L360.6,379.9 L363.7,378.3 L366.7,378.0 L369.8,377.7 L372.9,377.7 L376.0,377.7 L379.0,378.0 L382.1,380.8 L385.2,384.9 L388.3,388.1 L391.3,389.1 L394.4,389.7 L397.5,388.4 L400.5,386.8 L403.6,385.6 L406.7,384.4 L409.8,383.8 L412.8,383.3 L415.9,381.3 L419.0,379.9 L422.1,379.5 L425.1,379.1 L428.2,377.2 L431.3,376.2 L434.3,375.3 L437.4,374.5 L440.5,374.2 L443.6,373.0 L446.6,372.3 L449.7,373.6 L452.8,374.9 L455.9,375.7 L458.9,376.7 L462.0,377.1 L465.1,376.9 L468.1,377.3 L471.2,380.0 L474.3,382.1 L477.4,383.1 L480.4,383.2 L483.5,383.6 L486.6,385.3 L489.7,386.2 L492.7,386.7 L495.8,388.0 L498.9,389.4 L502.0,388.5 L505.0,387.5 L508.1,386.1 L511.2,385.4 L514.2,384.6 L517.3,384.3 L520.4,383.9 L523.5,383.8 L526.5,383.2 L529.6,380.7 L532.7,378.6 L535.8,378.6 L538.8,378.8 L541.9,378.6 L545.0,377.7 L548.0,377.0 L551.1,375.9 L554.2,374.1 L557.3,372.9 L557.3,377.8Z"/>
<path fill="#7dff00" d="M7.2,377.8 L7.2,385.5 L10.3,386.5 L13.3,387.5 L16.4,388.0 L19.5,388.3 L22.6,388.4 L25.6,388.7 L28.7,389.6 L31.8,390.9 L34.9,392.1 L37.9,393.6 L41.0,395.3 L44.1,396.9 L47.1,398.5 L50.2,399.7 L53.3,400.3 L56.4,400.5 L59.4,400.4 L62.5,399.9 L65.6,399.3 L68.7,398.3 L71.7,397.2 L74.8,396.0 L77.9,394.8 L81.0,393.7 L84.0,392.7 L87.1,391.8 L90.2,390.9 L93.2,390.3 L96.3,390.3 L99.4,390.2 L102.5,389.9 L105.5,389.4 L108.6,388.8 L111.7,387.9 L114.8,387.0 L117.8,385.9 L120.9,384.8 L124.0,383.9 L127.0,383.0 L130.1,382.3 L133.2,381.3 L136.3,380.1 L139.3,378.9 L142.4,377.7 L145.5,376.3 L148.6,375.0 L151.6,373.9 L154.7,373.0 L157.8,372.3 L160.9,371.7 L163.9,371.3 L167.0,371.2 L170.1,370.9 L173.1,370.8 L176.2,370.6 L179.3,370.2 L182.4,369.4 L185.4,368.4 L188.5,367.3 L191.6,366.5 L194.7,365.8 L197.7,365.1 L200.8,364.1 L203.9,363.1 L206.9,362.0 L210.0,361.0 L213.1,360.0 L216.2,359.1 L219.2,358.2 L222.3,357.4 L225.4,356.7 L228.5,356.1 L231.5,355.7 L234.6,355.4 L237.7,355.3 L240.7,355.7 L243.8,356.2 L246.9,356.8 L250.0,357.5 L253.0,358.3 L256.1,359.1 L259.2,360.0 L262.3,361.3 L265.3,362.8 L268.4,364.9 L271.5,367.9 L274.6,371.3 L277.6,374.6 L280.7,377.7 L283.8,380.6 L286.8,383.1 L289.9,385.3 L293.0,387.1 L296.1,388.8 L299.1,390.2 L302.2,391.3 L305.3,391.9 L308.4,392.1 L311.4,391.9 L314.5,391.4 L317.6,390.7 L320.6,389.9 L323.7,388.9 L326.8,388.0 L329.9,386.8 L332.9,385.4 L336.0,384.3 L339.1,383.3 L342.2,382.4 L345.2,381.8 L348.3,381.3 L351.4,381.0 L354.4,380.8 L357.5,380.7 L360.6,380.5 L363.7,380.1 L366.7,379.6 L369.8,379.3 L372.9,379.0 L376.0,378.7 L379.0,378.6 L382.1,379.0 L385.2,380.2 L388.3,381.8 L391.3,383.2 L394.4,384.5 L397.5,385.3 L400.5,385.6 L403.6,385.6 L406.7,385.4 L409.8,385.0 L412.8,384.7 L415.9,384.0 L419.0,383.2 L422.1,382.5 L425.1,381.8 L428.2,380.9 L431.3,379.9 L434.3,379.0 L437.4,378.1 L440.5,377.3 L443.6,376.5 L446.6,375.6 L449.7,375.2 L452.8,375.2 L455.9,375.3 L458.9,375.5 L462.0,375.9 L465.1,376.1 L468.1,376.3 L471.2,377.1 L474.3,378.1 L477.4,379.1 L480.4,379.9 L483.5,380.6 L486.6,381.6 L489.7,382.5 L492.7,383.3 L495.8,384.3 L498.9,385.3 L502.0,385.9 L505.0,386.3 L508.1,386.2 L511.2,386.0 L514.2,385.8 L517.3,385.5 L520.4,385.2 L523.5,384.9 L526.5,384.5 L529.6,383.8 L532.7,382.7 L535.8,381.9 L538.8,381.3 L541.9,380.8 L545.0,380.2 L548.0,379.5 L551.1,378.8 L554.2,377.9 L557.3,376.9 L557.3,377.8Z"/>
<path fill="none" stroke="#e8502a" stroke-width="0.7" d="M7.2,388.9 L10.3,390.6 L13.3,391.3 L16.4,390.2 L19.5,389.4 L22.6,388.7 L25.6,390.1 L28.7,393.2 L31.8,396.0 L34.9,397.2 L37.9,399.5 L41.0,401.8 L44.1,403.3 L47.1,405.1 L50.2,404.3 L53.3,402.7 L56.4,401.4 L59.4,399.9 L62.5,398.2 L65.6,396.6 L68.7,394.3 L71.7,392.9 L74.8,391.1 L77.9,389.8 L81.0,389.4 L84.0,388.6 L87.1,388.2 L90.2,387.5 L93.2,388.0 L96.3,389.9 L99.4,390.0 L102.5,388.6 L105.5,387.3 L108.6,386.3 L111.7,384.5 L114.8,383.4 L117.8,381.3 L120.9,380.4 L124.0,380.3 L127.0,379.4 L130.1,379.3 L133.2,377.5 L136.3,375.4 L139.3,374.1 L142.4,372.7 L145.5,370.7 L148.6,369.8 L151.6,369.6 L154.7,369.3 L157.8,369.4 L160.9,369.4 L163.9,369.9 L167.0,370.7 L170.1,369.9 L173.1,370.2 L176.2,370.0 L179.3,368.4 L182.4,366.2 L185.4,364.3 L188.5,363.0 L191.6,363.4 L194.7,363.2 L197.7,362.2 L200.8,360.3 L203.9,358.7 L206.9,357.8 L210.0,356.8 L213.1,356.0 L216.2,355.6 L219.2,354.5 L222.3,354.1 L225.4,354.0 L228.5,353.8 L231.5,353.8 L234.6,354.4 L237.7,354.6 L240.7,357.3 L243.8,358.5 L246.9,359.1 L250.0,360.2 L253.0,361.5 L256.1,362.1 L259.2,364.0 L262.3,366.3 L265.3,368.7 L268.4,373.5 L271.5,379.6 L274.6,384.8 L277.6,387.8 L280.7,390.2 L283.8,392.0 L286.8,393.4 L289.9,394.0 L293.0,394.5 L296.1,395.6 L299.1,395.8 L302.2,395.4 L305.3,394.2 L308.4,392.9 L311.4,391.3 L314.5,389.5 L317.6,388.0 L320.6,386.4 L323.7,385.2 L326.8,384.1 L329.9,382.0 L332.9,380.1 L336.0,379.7 L339.1,379.3 L342.2,379.1 L345.2,379.4 L348.3,379.3 L351.4,379.5 L354.4,380.0 L357.5,380.2 L360.6,379.9 L363.7,378.3 L366.7,378.0 L369.8,377.7 L372.9,377.7 L376.0,377.7 L379.0,378.0 L382.1,380.8 L385.2,384.9 L388.3,388.1 L391.3,389.1 L394.4,389.7 L397.5,388.4 L400.5,386.8 L403.6,385.6 L406.7,384.4 L409.8,383.8 L412.8,383.3 L415.9,381.3 L419.0,379.9 L422.1,379.5 L425.1,379.1 L428.2,377.2 L431.3,376.2 L434.3,375.3 L437.4,374.5 L440.5,374.2 L443.6,373.0 L446.6,372.3 L449.7,373.6 L452.8,374.9 L455.9,375.7 L458.9,376.7 L462.0,377.1 L465.1,376.9 L468.1,377.3 L471.2,380.0 L474.3,382.1 L477.4,383.1 L480.4,383.2 L483.5,383.6 L486.6,385.3 L489.7,386.2 L492.7,386.7 L495.8,388.0 L498.9,389.4 L502.0,388.5 L505.0,387.5 L508.1,386.1 L511.2,385.4 L514.2,384.6 L517.3,384.3 L520.4,383.9 L523.5,383.8 L526.5,383.2 L529.6,380.7 L532.7,378.6 L535.8,378.6 L538.8,378.8 L541.9,378.6 L545.0,377.7 L548.0,377.0 L551.1,375.9 L554.2,374.1 L557.3,372.9"/>
<path d="M5.6,377.8H589.7" stroke="#ee7b5c" stroke-width="1"/>
<path clip-path="url(#cg)" d="M7.2,377.8V381.2M10.3,377.8V381.9M13.3,377.8V381.6M16.4,377.8V380.0M19.5,377.8V378.9M22.6,377.8V378.1M25.6,377.8V379.2M28.7,377.8V381.3M31.8,377.8V382.9M34.9,377.8V382.8M37.9,377.8V383.7M41.0,377.8V384.4M44.1,377.8V384.2M47.1,377.8V384.4M50.2,377.8V382.4M53.3,377.8V380.2M56.4,377.8V378.7M59.4,377.8V377.3M62.5,377.8V376.0M65.6,377.8V375.1M68.7,377.8V373.8M71.7,377.8V373.5M74.8,377.8V372.9M77.9,377.8V372.9M81.0,377.8V373.6M84.0,377.8V373.7M87.1,377.8V374.2M90.2,377.8V374.4M93.2,377.8V375.5M96.3,377.8V377.5M99.4,377.8V377.6M102.5,377.8V376.5M105.5,377.8V375.8M108.6,377.8V375.4M111.7,377.8V374.4M114.8,377.8V374.2M117.8,377.8V373.3M120.9,377.8V373.4M124.0,377.8V374.2M127.0,377.8V374.3M130.1,377.8V374.9M133.2,377.8V374.0M136.3,377.8V373.1M139.3,377.8V373.0M142.4,377.8V372.8M145.5,377.8V372.2M148.6,377.8V372.6M151.6,377.8V373.5M154.7,377.8V374.1M157.8,377.8V375.0M160.9,377.8V375.5M163.9,377.8V376.4M167.0,377.8V377.3M170.1,377.8V376.7M173.1,377.8V377.2M176.2,377.8V377.2M179.3,377.8V376.0M182.4,377.8V374.6M185.4,377.8V373.8M188.5,377.8V373.5M191.6,377.8V374.7M194.7,377.8V375.2M197.7,377.8V374.9M200.8,377.8V373.9M203.9,377.8V373.5M206.9,377.8V373.6M210.0,377.8V373.6M213.1,377.8V373.8M216.2,377.8V374.3M219.2,377.8V374.1M222.3,377.8V374.5M225.4,377.8V375.1M228.5,377.8V375.5M231.5,377.8V375.9M234.6,377.8V376.8M237.7,377.8V377.2M240.7,377.8V379.5M243.8,377.8V380.0M246.9,377.8V380.1M250.0,377.8V380.5M253.0,377.8V381.0M256.1,377.8V380.9M259.2,377.8V381.8M262.3,377.8V382.8M265.3,377.8V383.7M268.4,377.8V386.4M271.5,377.8V389.5M274.6,377.8V391.4M277.6,377.8V391.0M280.7,377.8V390.3M283.8,377.8V389.3M286.8,377.8V388.1M289.9,377.8V386.5M293.0,377.8V385.1M296.1,377.8V384.6M299.1,377.8V383.4M302.2,377.8V381.9M305.3,377.8V380.2M308.4,377.8V378.6M311.4,377.8V377.2M314.5,377.8V375.9M317.6,377.8V375.1M320.6,377.8V374.3M323.7,377.8V374.0M326.8,377.8V373.9M329.9,377.8V373.0M332.9,377.8V372.5M336.0,377.8V373.2M339.1,377.8V373.8M342.2,377.8V374.5M345.2,377.8V375.3M348.3,377.8V375.8M351.4,377.8V376.4M354.4,377.8V377.0M357.5,377.8V377.3M360.6,377.8V377.2M363.7,377.8V376.1M366.7,377.8V376.1M369.8,377.8V376.3M372.9,377.8V376.6M376.0,377.8V376.8M379.0,377.8V377.3M382.1,377.8V379.6M385.2,377.8V382.5M388.3,377.8V384.1M391.3,377.8V383.7M394.4,377.8V383.0M397.5,377.8V380.9M400.5,377.8V379.0M403.6,377.8V377.8M406.7,377.8V376.8M409.8,377.8V376.6M412.8,377.8V376.4M415.9,377.8V375.1M419.0,377.8V374.5M422.1,377.8V374.8M425.1,377.8V375.1M428.2,377.8V374.2M431.3,377.8V374.1M434.3,377.8V374.1M437.4,377.8V374.2M440.5,377.8V374.7M443.6,377.8V374.3M446.6,377.8V374.5M449.7,377.8V376.1M452.8,377.8V377.5M455.9,377.8V378.2M458.9,377.8V378.9M462.0,377.8V379.1M465.1,377.8V378.6M468.1,377.8V378.8M471.2,377.8V380.8M474.3,377.8V381.8M477.4,377.8V381.8M480.4,377.8V381.1M483.5,377.8V380.8M486.6,377.8V381.5M489.7,377.8V381.5M492.7,377.8V381.2M495.8,377.8V381.5M498.9,377.8V381.9M502.0,377.8V380.4M505.0,377.8V379.0M508.1,377.8V377.6M511.2,377.8V377.1M514.2,377.8V376.6M517.3,377.8V376.6M520.4,377.8V376.6M523.5,377.8V376.7M526.5,377.8V376.5M529.6,377.8V374.8M532.7,377.8V373.7M535.8,377.8V374.5M538.8,377.8V375.3M541.9,377.8V375.7M545.0,377.8V375.4M548.0,377.8V375.3M551.1,377.8V374.9M554.2,377.8V374.1M557.3,377.8V373.8" stroke="#1c3c6a" stroke-width="0.75" fill="none"/>
<text x="4.3" y="10.7" font-size="7.8" fill="#3a3a3a" textLength="40.5" lengthAdjust="spacingAndGlyphs" font-family="Liberation Sans, Noto Sans CJK SC, sans-serif">每天 XAU<tspan fill="#aaa">=</tspan></text>
<text x="552" y="10.8" font-size="4.9" fill="#8a8a8a" textLength="69" lengthAdjust="spacingAndGlyphs" font-family="Liberation Sans, Noto Sans CJK SC, sans-serif">2021/2/17 - 2021/11/9 (GMT)</text>
<text x="9.6" y="20.3" font-size="4.8" fill="#4a4a4a" textLength="194.4" lengthAdjust="spacingAndGlyphs" font-family="Liberation Sans, Noto Sans CJK SC, sans-serif" >Cndl, XAU=, Bid, 2021/10/26, 1,807.6117, 1,808.0050, 1,803.4000, 1,805.7683,</text>
<text x="206.5" y="20.3" font-size="4.8" fill="#f0603c" textLength="42" lengthAdjust="spacingAndGlyphs" font-family="Liberation Sans, Noto Sans CJK SC, sans-serif" >-1.7034, (-.09%),</text>
<text x="251" y="20.3" font-size="4.8" fill="#c77be6" textLength="219.4" lengthAdjust="spacingAndGlyphs" font-family="Liberation Sans, Noto Sans CJK SC, sans-serif" >BBand, XAU=, Bid(Last),  20, 指数, 2.0, 2021/10/26, 1,822.6632, 1,777.3740, 1,732.0847</text>
<text x="9.4" y="238.7" font-size="4.8" fill="#ee4a28" textLength="144.9" lengthAdjust="spacingAndGlyphs" font-family="Liberation Sans, Noto Sans CJK SC, sans-serif" >RSI, XAU=, Bid(Last),  14, 威尔德平滑, 2021/10/26, 61.455</text>
<text x="9.6" y="348.0" font-size="4.8" fill="#3f5fe0" textLength="150.4" lengthAdjust="spacingAndGlyphs" font-family="Liberation Sans, Noto Sans CJK SC, sans-serif" >MACDF, XAU=, Bid(Last),  12, 26, 9, 指数, 2021/10/26, 5.4142,</text>
<text x="162" y="348.0" font-size="4.8" fill="#e62020" textLength="153" lengthAdjust="spacingAndGlyphs" font-family="Liberation Sans, Noto Sans CJK SC, sans-serif" >MACD, XAU=, Bid(Last),  12, 26, 9, 指数, 2021/10/26, 4.4743,</text>
<text x="317.5" y="348.0" font-size="4.8" fill="#5fdc00" textLength="14.5" lengthAdjust="spacingAndGlyphs" font-family="Liberation Sans, Noto Sans CJK SC, sans-serif" >1.0600</text>
<g font-size="6.8" fill="#8c8c8c" font-family="Liberation Sans, Noto Sans CJK SC, sans-serif">
<text x="593.3" y="211.1">1,680</text>
<text x="593.3" y="191.1">1,710</text>
<text x="593.3" y="171.2">1,740</text>
<text x="593.3" y="151.2">1,770</text>
<text x="593.3" y="131.3">1,800</text>
<text x="593.3" y="111.4">1,830</text>
<text x="593.3" y="91.4">1,860</text>
<text x="593.3" y="71.5">1,890</text>
<text x="593.3" y="51.5">1,920</text>
</g>
<path d="M589.7,209.4h2.5M589.7,189.4h2.5M589.7,169.5h2.5M589.7,149.6h2.5M589.7,129.6h2.5M589.7,109.7h2.5M589.7,89.7h2.5M589.7,69.8h2.5M589.7,49.8h2.5" stroke="#aaa" stroke-width="0.7"/>
<g fill="#333" font-family="Liberation Sans, Noto Sans CJK SC, sans-serif"><text x="592.6" y="28.8" font-size="5.6" font-weight="bold">价格</text><text x="592.6" y="34.8" font-size="4.4" font-weight="bold">USD</text><text x="592.6" y="42" font-size="4.4" font-weight="bold">Ozs</text></g>
<rect x="590" y="108.3" width="40" height="9" fill="#b43cf0"/>
<text x="592" y="115.1" font-size="6.3" fill="#5a1a90" font-family="Liberation Sans, Noto Sans CJK SC, sans-serif">1,822.6632</text>
<rect x="590" y="138.8" width="40" height="9" fill="#b43cf0"/>
<text x="592" y="145.6" font-size="6.3" fill="#5a1a90" font-family="Liberation Sans, Noto Sans CJK SC, sans-serif">1,777.3740</text>
<rect x="590" y="169.2" width="40" height="9" fill="#b43cf0"/>
<text x="592" y="176.0" font-size="6.3" fill="#5a1a90" font-family="Liberation Sans, Noto Sans CJK SC, sans-serif">1,732.0847</text>
<rect x="590" y="119.5" width="40" height="9" fill="#1a1a1a"/>
<text x="592" y="126.3" font-size="6.3" fill="#fff" font-family="Liberation Sans, Noto Sans CJK SC, sans-serif">1,805.7683</text>
<path d="M586.5,229.0h4" stroke="#999" stroke-width="0.7"/>
<text x="592.6" y="231.0" font-size="7" font-weight="bold" fill="#333" font-family="Liberation Sans, Noto Sans CJK SC, sans-serif">自动</text>
<path d="M586.5,339.3h4" stroke="#999" stroke-width="0.7"/>
<text x="592.6" y="341.3" font-size="7" font-weight="bold" fill="#333" font-family="Liberation Sans, Noto Sans CJK SC, sans-serif">自动</text>
<path d="M586.5,406.2h4" stroke="#999" stroke-width="0.7"/>
<text x="592.6" y="408.2" font-size="7" font-weight="bold" fill="#333" font-family="Liberation Sans, Noto Sans CJK SC, sans-serif">自动</text>
<g fill="#333" font-family="Liberation Sans, Noto Sans CJK SC, sans-serif"><text x="592.6" y="246.2" font-size="5.6" font-weight="bold">值</text><text x="592.6" y="253" font-size="4.4" font-weight="bold">USD</text><text x="592.6" y="260" font-size="4.4" font-weight="bold">Ozs</text></g>
<g font-size="4.8" fill="#999" font-family="Liberation Sans, Noto Sans CJK SC, sans-serif">
<text x="593.3" y="328.8">10</text>
<text x="593.3" y="319.9">20</text>
<text x="593.3" y="310.9">30</text>
<text x="593.3" y="302.0">40</text>
<text x="593.3" y="293.0">50</text>
<text x="593.3" y="284.1">60</text>
<text x="593.3" y="275.1">70</text>
<text x="593.3" y="268.4">80</text>
</g>
<rect x="590" y="277.6" width="40" height="6.6" fill="#f04a1e"/><text x="591.5" y="283" font-size="5.6" fill="#2a0000" font-weight="bold" font-family="Liberation Sans, Noto Sans CJK SC, sans-serif">61.455</text>
<g fill="#333" font-family="Liberation Sans, Noto Sans CJK SC, sans-serif"><text x="592" y="356.5" font-size="5.6" font-weight="bold">值</text><text x="592" y="362.5" font-size="4.4" font-weight="bold">USD</text></g>
<text x="592.5" y="394.7" font-size="4.8" fill="#999" font-family="Liberation Sans, Noto Sans CJK SC, sans-serif">-20</text>
<rect x="590" y="364" width="40" height="6.3" fill="#e81c1c"/><text x="591.5" y="369.3" font-size="5.4" fill="#600" font-weight="bold" font-family="Liberation Sans, Noto Sans CJK SC, sans-serif">5.4142</text>
<rect x="590" y="370.3" width="40" height="7" fill="#4a14c8"/><text x="591.5" y="375.8" font-size="5.4" fill="#1a0060" font-weight="bold" font-family="Liberation Sans, Noto Sans CJK SC, sans-serif">4.4743</text>
<rect x="590" y="377.3" width="40" height="6.3" fill="#7dff00"/><text x="591.5" y="382.6" font-size="5.4" fill="#2a6000" font-weight="bold" font-family="Liberation Sans, Noto Sans CJK SC, sans-serif">1.0600</text>
<g font-size="7.3" fill="#7a7a7a" text-anchor="middle" font-family="Liberation Serif, Noto Sans CJK SC, serif">
<text x="18.7" y="419.2">22</text>
<text x="34.0" y="419.2">01</text>
<text x="49.3" y="419.2">08</text>
<text x="64.7" y="419.2">15</text>
<text x="80.0" y="419.2">22</text>
<text x="95.3" y="419.2">29</text>
<text x="110.6" y="419.2">05</text>
<text x="126.0" y="419.2">12</text>
<text x="141.3" y="419.2">19</text>
<text x="156.6" y="419.2">26</text>
<text x="171.9" y="419.2">03</text>
<text x="187.3" y="419.2">10</text>
<text x="202.6" y="419.2">17</text>
<text x="217.9" y="419.2">24</text>
<text x="233.2" y="419.2">31</text>
<text x="248.6" y="419.2">07</text>
<text x="263.9" y="419.2">14</text>
<text x="279.2" y="419.2">21</text>
<text x="294.5" y="419.2">28</text>
<text x="309.9" y="419.2">05</text>
<text x="325.2" y="419.2">12</text>
<text x="340.5" y="419.2">19</text>
<text x="355.8" y="419.2">26</text>
<text x="371.2" y="419.2">02</text>
<text x="386.5" y="419.2">09</text>
<text x="401.8" y="419.2">16</text>
<text x="417.1" y="419.2">23</text>
<text x="432.5" y="419.2">30</text>
<text x="447.8" y="419.2">06</text>
<text x="463.1" y="419.2">13</text>
<text x="478.4" y="419.2">20</text>
<text x="493.8" y="419.2">27</text>
<text x="509.1" y="419.2">04</text>
<text x="524.4" y="419.2">11</text>
<text x="539.8" y="419.2">18</text>
<text x="555.1" y="419.2">25</text>
<text x="570.4" y="419.2">01</text>
<text x="585.7" y="419.2">08</text>
</g>
<g font-size="8" fill="#3c3c3c" font-family="Liberation Serif, Noto Sans CJK SC, serif">
<text x="46.6" y="427.6" textLength="38.8" lengthAdjust="spacingAndGlyphs">2021 三月</text>
<text x="115.6" y="427.6" textLength="38.8" lengthAdjust="spacingAndGlyphs">2021 四月</text>
<text x="180.6" y="427.6" textLength="38.8" lengthAdjust="spacingAndGlyphs">2021 五月</text>
<text x="246.6" y="427.6" textLength="38.8" lengthAdjust="spacingAndGlyphs">2021 六月</text>
<text x="315.1" y="427.6" textLength="38.8" lengthAdjust="spacingAndGlyphs">2021 七月</text>
<text x="381.6" y="427.6" textLength="38.8" lengthAdjust="spacingAndGlyphs">2021 八月</text>
<text x="447.6" y="427.6" textLength="38.8" lengthAdjust="spacingAndGlyphs">2021 九月</text>
<text x="516.6" y="427.6" textLength="38.8" lengthAdjust="spacingAndGlyphs">2021 十月</text>
</g>
<path d="M18.5,408.7v2.6M33.8,408.7v2.6M49.1,408.7v2.6M64.5,408.7v2.6M79.8,408.7v2.6M95.1,408.7v2.6M110.4,408.7v2.6M125.8,408.7v2.6M141.1,408.7v2.6M156.4,408.7v2.6M171.8,408.7v2.6M187.1,408.7v2.6M202.4,408.7v2.6M217.7,408.7v2.6M233.0,408.7v2.6M248.4,408.7v2.6M263.7,408.7v2.6M279.0,408.7v2.6M294.3,408.7v2.6M309.7,408.7v2.6M325.0,408.7v2.6M340.3,408.7v2.6M355.6,408.7v2.6M371.0,408.7v2.6M386.3,408.7v2.6M401.6,408.7v2.6M416.9,408.7v2.6M432.3,408.7v2.6M447.6,408.7v2.6M462.9,408.7v2.6M478.2,408.7v2.6M493.6,408.7v2.6M508.9,408.7v2.6M524.2,408.7v2.6M539.5,408.7v2.6M554.9,408.7v2.6M570.2,408.7v2.6M585.5,408.7v2.6" stroke="#a0a0a0" stroke-width="0.8"/>
<path d="M32.8,421v8.5M102.3,421v8.5M169.8,421v8.5M233.3,421v8.5M301.8,421v8.5M369.8,421v8.5M437.3,421v8.5M504.3,421v8.5M569.8,421v8.5" stroke="#777" stroke-width="0.8"/>
</g></svg></body></html>
